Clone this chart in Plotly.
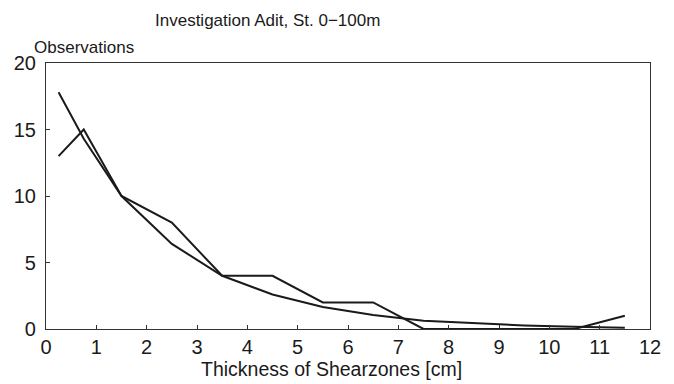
import plotly.graph_objects as go

# Data
x_mid = [0.25, 0.75, 1.5, 2.5, 3.5, 4.5, 5.5, 6.5, 7.5, 8.5, 9.5, 10.5, 11.5]
observed = [13.0, 15.0, 10.0, 8.0, 4.0, 4.0, 2.0, 2.0, 0.0, 0.0, 0.0, 0.0, 1.0]
fitted = [17.8, 14.3, 10.0, 6.4, 4.0, 2.6, 1.65, 1.05, 0.62, 0.42, 0.27, 0.17, 0.1]

x_ticks = [0, 1, 2, 3, 4, 5, 6, 7, 8, 9, 10, 11, 12]
y_ticks = [0, 5, 10, 15, 20]

title_text = "Investigation Adit, St. 0\u2212100m"
y_title = "Observations"
x_title = "Thickness of Shearzones [cm]"

W, H = 674, 384
ml, mr, mt, mb = 46, 24, 63, 55
font = "Liberation Sans, Arial, sans-serif"
ink = "#1a1a1a"

fig = go.Figure()
fig.add_trace(go.Scatter(x=x_mid, y=fitted, mode="lines",
                         line=dict(color=ink, width=2), showlegend=False))
fig.add_trace(go.Scatter(x=x_mid, y=observed, mode="lines",
                         line=dict(color=ink, width=2), showlegend=False))

axis_common = dict(showgrid=False, zeroline=False, showline=True, linecolor="#333",
                   linewidth=1.2, mirror=True, ticks="inside", ticklen=4,
                   tickcolor="#333", tickwidth=1.2,
                   tickfont=dict(family=font, size=20, color=ink))

fig.update_xaxes(range=[0, 12], tickvals=x_ticks, **axis_common)
fig.update_yaxes(range=[0, 20], tickvals=y_ticks, ticklabelstandoff=5, **axis_common)

def px_to_paper_x(px):
    return (px - ml) / (W - ml - mr)

def px_to_paper_y(py):
    return (H - mb - py) / (H - mt - mb)

fig.add_annotation(text=title_text, x=px_to_paper_x(267), y=px_to_paper_y(21),
                   xref="paper", yref="paper", showarrow=False,
                   xanchor="center", yanchor="middle",
                   font=dict(family=font, size=17, color=ink))
fig.add_annotation(text=y_title, x=px_to_paper_x(32), y=px_to_paper_y(47),
                   xref="paper", yref="paper", showarrow=False,
                   xanchor="left", yanchor="middle",
                   font=dict(family=font, size=17, color=ink))
fig.add_annotation(text=x_title, x=px_to_paper_x(331), y=px_to_paper_y(369),
                   xref="paper", yref="paper", showarrow=False,
                   xanchor="center", yanchor="middle",
                   font=dict(family=font, size=19.5, color=ink))

fig.update_layout(width=W, height=H, margin=dict(l=ml, r=mr, t=mt, b=mb),
                  plot_bgcolor="white", paper_bgcolor="white")

fig.write_html("out.html")
